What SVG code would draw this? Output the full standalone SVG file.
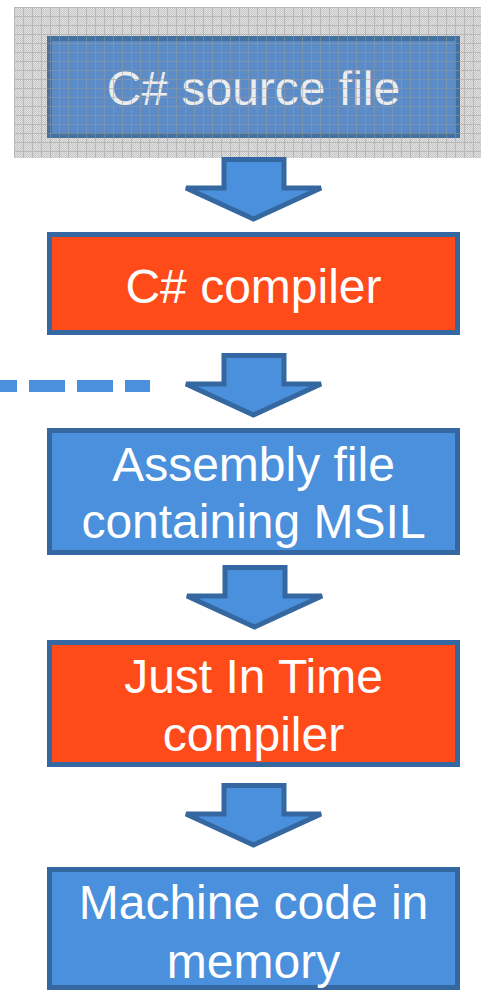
<svg xmlns="http://www.w3.org/2000/svg" width="481" height="990" viewBox="0 0 481 990">
<defs>
<pattern id="checker" width="2" height="2" patternUnits="userSpaceOnUse">
<rect width="2" height="2" fill="#e4e4e4"/>
<rect width="1" height="1" fill="#c4c4c4"/>
<rect x="1" y="1" width="1" height="1" fill="#c4c4c4"/>
</pattern>
<pattern id="grid" x="14" y="7" width="9" height="9" patternUnits="userSpaceOnUse">
<rect x="0" y="0" width="9" height="1" fill="#9a9a9a"/>
<rect x="0" y="0" width="1" height="9" fill="#9a9a9a"/>
</pattern>
<path id="arrow" d="M224,2.5 H284 V31 H321 L253.5,62 L186,31 H224 Z"/>
</defs>
<style>
.box{stroke:#3568a0;stroke-width:5}
.blue{fill:#4a90dc}
.orange{fill:#ff4a1a}
.arr{fill:#4a90dc;stroke:#3568a0;stroke-width:5;stroke-linejoin:miter}
.lbl{font-family:"Liberation Sans",Arial,sans-serif;font-size:48px;fill:#ffffff;text-anchor:middle}
</style>
<rect width="481" height="990" fill="#ffffff"/>
<g id="source">
<rect x="14" y="7" width="467" height="151" fill="url(#checker)"/>
<rect x="49.5" y="38.5" width="408" height="97" fill="#5b8cc7" stroke="#44719f" stroke-width="5"/>
<text class="lbl" x="253.5" y="105" style="fill:#ececec">C# source file</text>
<rect x="14" y="7" width="467" height="151" fill="url(#grid)" opacity="0.5"/>
</g>
<g id="connectors">
<use href="#arrow" class="arr" transform="translate(0,157)"/>
<use href="#arrow" class="arr" transform="translate(0,353)"/>
<use href="#arrow" class="arr" transform="translate(1,565)"/>
<use href="#arrow" class="arr" transform="translate(0,783)"/>
<line x1="-19" y1="386" x2="150" y2="386" stroke="#4a90dc" stroke-width="12" stroke-dasharray="36 12"/>
</g>
<g id="compiler">
<rect class="box orange" x="49.5" y="234.5" width="408" height="98"/>
<text class="lbl" x="253.5" y="303">C# compiler</text>
</g>
<g id="assembly">
<rect class="box blue" x="49.5" y="430.5" width="408" height="122"/>
<text class="lbl" x="253.5" y="481">Assembly file</text>
<text class="lbl" x="253.5" y="538">containing MSIL</text>
</g>
<g id="jit">
<rect class="box orange" x="49.5" y="642.5" width="408" height="122"/>
<text class="lbl" x="253.5" y="693">Just In Time</text>
<text class="lbl" x="253.5" y="751">compiler</text>
</g>
<g id="machine">
<rect class="box blue" x="49.5" y="869.5" width="408" height="118"/>
<text class="lbl" x="253.5" y="919">Machine code in</text>
<text class="lbl" x="253.5" y="978">memory</text>
</g>
</svg>
